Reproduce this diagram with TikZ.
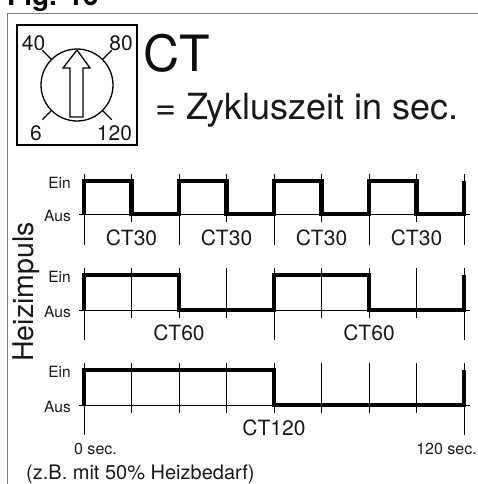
\documentclass[tikz,border=0pt]{standalone}
\usepackage{fontspec}
\setmainfont{TeX Gyre Heros}
\usetikzlibrary{calc}
\begin{document}
\begin{tikzpicture}[x=1pt,y=-1pt,
  thinln/.style={line width=0.8pt, black},
  wave/.style={line width=4.3pt, line join=miter, black},
  lvl/.style={anchor=east, inner sep=0pt, text=black!90, font=\fontsize{15.5}{15.5}\selectfont},
  ctlab/.style={inner sep=0pt, text=black!90, font=\fontsize{21}{21}\selectfont},
  diallab/.style={inner sep=0pt, text=black!90, font=\fontsize{21}{21}\selectfont},
  seclab/.style={inner sep=0pt, text=black!90, font=\fontsize{16}{16}\selectfont},
]
\useasboundingbox (0,0) rectangle (478,484);
% title (cut off at the top edge, as in the reference)
\node[anchor=base west, inner sep=0pt, font=\bfseries\fontsize{28}{28}\selectfont] (fig) at (7,6) {Fig. 16};
% frame
\draw[black!50, line width=1pt] (7,484) -- (7,14) -- (478,14);
% dial
\draw[line width=1.5pt] (17,25) rectangle (137,145);
\draw[line width=1.3pt] (77,85) circle (36);
\foreach \ang in {45,135,225,315}
  \draw[line width=1.3pt] ($(77,85)+(\ang:36)$) -- ($(77,85)+(\ang:49)$);
\draw[line width=1.3pt, line join=miter] (70,117) -- (70,68) -- (63,68) -- (77,50) -- (90,68) -- (83,68) -- (83,117) -- cycle;
\node[diallab] (d40) at (33.5,43) {40};
\node[diallab] (d80) at (121,43) {80};
\node[diallab] (d6) at (36,133) {6};
\node[diallab] (d120) at (114.5,133) {120};
\node[anchor=base west, inner sep=0pt, text=black!95, font=\fontsize{50}{50}\selectfont] (ct) at (143,72) {CT};
\node[anchor=base west, inner sep=0pt, text=black!90, font=\fontsize{36}{36}\selectfont] (zyk) at (155,120) {= Zykluszeit in sec.};
% vertical label
\node[rotate=90, anchor=base, inner sep=0pt, text=black!90, font=\fontsize{28.5}{28.5}\selectfont] (heiz) at (33,292) {Heizimpuls};
% rows: axis, ticks, level labels
\foreach \e/\a/\n in {181/214/a, 275/310/b, 370/405/c} {
  \draw[thinln] (79,\a) -- (470,\a);
  \foreach \i in {0,...,8}
    \draw[thinln] ({84+47.5*\i},\e-7) -- ({84+47.5*\i},\a+8);
  \node[lvl] (ein\n) at (71,\e+1.5) {Ein};
  \node[lvl] (aus\n) at (71,\a+2) {Aus};
}
% long period lines
\foreach \i in {0,2,4,6,8} \draw[thinln] ({84+47.5*\i},214) -- ({84+47.5*\i},245);
\foreach \i in {0,4,8} \draw[thinln] ({84+47.5*\i},310) -- ({84+47.5*\i},340);
\foreach \i in {0,8} \draw[thinln] ({84+47.5*\i},405) -- ({84+47.5*\i},435);
% period labels
\foreach \x/\k in {131.5/1,226.5/2,321.5/3,416.5/4} \node[ctlab] (ctt\k) at (\x,238) {CT30};
\node[ctlab] (cts1) at (179,333) {CT60};
\node[ctlab] (cts2) at (369,333) {CT60};
\node[ctlab] (cth) at (274,428) {CT120};
% waveforms
\draw[wave] (84,214) -- (84,181) -- (131.5,181) -- (131.5,214) -- (179,214) -- (179,181) -- (226.5,181) -- (226.5,214) -- (274,214) -- (274,181) -- (321.5,181) -- (321.5,214) -- (369,214) -- (369,181) -- (416.5,181) -- (416.5,214) -- (464,214) -- (464,181);
\draw[wave] (84,310) -- (84,275) -- (179,275) -- (179,310) -- (274,310) -- (274,275) -- (369,275) -- (369,310) -- (464,310) -- (464,275);
\draw[wave] (84,405) -- (84,370) -- (274,370) -- (274,405) -- (464,405) -- (464,370);
% time labels
\node[seclab] (t0) at (95.5,449) {0 sec.};
\node[seclab, anchor=east] (t120) at (477,449) {120 sec.};
\node[anchor=base west, inner sep=0pt, text=black!90, font=\fontsize{20}{20}\selectfont] (note) at (26,479) {(z.B. mit 50\% Heizbedarf)};
\end{tikzpicture}
\end{document}
